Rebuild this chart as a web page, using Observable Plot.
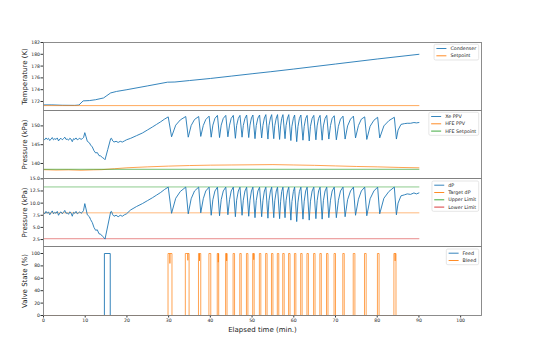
<!DOCTYPE html>
<html><head><meta charset="utf-8">
<script src="https://cdn.jsdelivr.net/npm/d3@7"></script>
<script src="https://cdn.jsdelivr.net/npm/@observablehq/plot@0.6"></script>
<style>
html,body{margin:0;padding:0;background:#fff;}
#fig{position:relative;width:538px;height:354px;overflow:hidden;background:#fff;font-family:"DejaVu Sans";}
.panel{position:absolute;left:0;}
.panel svg{overflow:visible;}
#leg{position:absolute;left:0;top:0;}
</style></head><body><div id="fig"></div><script>
// ---------- data ----------
const timeTicks = [0,10,20,30,40,50,60,70,80,90,100];
const tempTicks = [172,174,176,178,180,182];
const pressTicks = [140,145,150];
const dpTicks = [2.5,5,7.5,10,12.5,15];
const valveTicks = [0,20,40,60,80,100];

// Panel 1: temperature (K)
const condT = [0,2,4.5,7.5,8.5,9.5,11,12.5,14.4,15.2,16.1,17.5,20,25,29.7,31.5,35,40,45,50,54.5,60,70,80,90];
const condK = [171.42,171.42,171.36,171.34,171.4,172.1,172.15,172.3,172.6,173.0,173.45,173.7,174.0,174.65,175.27,175.3,175.55,175.9,176.3,176.7,177.05,177.5,178.35,179.2,180.0];
const setT = [0,90];
const setK = [171.3,171.3];

// Panels 2 & 3: Xe PPV and dP (kPa), shared time base
const ppvT = [
0,0.3,0.6,0.9,1.2,1.5,1.8,2.1,2.4,2.7,3,3.3,3.6,3.9,4.2,4.5,4.8,5.1,5.4,5.7,6,6.3,6.6,6.9,7.2,7.5,7.8,8.1,8.4,8.7,9,9.3,
9.6,9.9,10.2,10.5,11.0,11.3,11.7,12.1,12.5,12.9,13.3,13.7,14.1,14.5,14.75,15.4,16.1,16.3,16.6,16.9,17.4,17.9,18.4,18.9,19.4,19.9,20.9,22.3,23.7,24.9,26.1,27.1,28.1,29.0,29.9,
30.7,31.7,32.8,34.1,
34.7,35.4,36.2,37.2,
37.7,38.3,38.9,39.7,
40.2,40.6,41.1,41.7,
42.2,42.6,43.1,43.7,
44.2,44.6,45.0,45.5,
46.0,46.3,46.7,47.1,
47.6,47.9,48.3,48.7,
49.2,49.5,49.85,50.2,
50.7,51.0,51.4,51.8,
52.3,52.6,52.95,53.3,
53.8,54.05,54.4,54.7,
55.2,55.45,55.8,56.1,
56.6,56.85,57.1,57.4,
57.9,58.15,58.5,58.8,
59.3,59.55,59.9,60.2,
60.7,61.0,61.35,61.7,
62.2,62.5,62.85,63.2,
63.7,64.0,64.4,64.8,
65.3,65.6,65.95,66.3,
66.8,67.1,67.5,67.9,
68.4,68.8,69.2,69.7,
70.2,70.7,71.2,71.8,
72.3,72.9,73.6,74.3,
74.8,75.5,76.2,77.0,
77.5,78.3,79.2,80.1,
80.6,81.6,82.8,84.1,
84.6,85.0,85.7,86.5,87.2,88.0,88.8,89.4,90.0];
const xePPV = [
146.6,146.3,146.8,146.4,146.7,146.1,146.5,146.9,146.3,146.6,146.4,146.8,146.0,146.5,146.7,146.3,146.6,147.0,146.4,146.5,146.2,146.7,146.5,145.8,146.6,146.4,146.8,146.3,146.5,146.7,146.4,146.6,
146.9,148.2,147.1,145.9,145.5,144.9,144.4,143.4,142.8,142.9,142.1,142.0,141.6,141.3,141.0,143.7,146.6,146.7,146.0,145.7,145.9,145.6,145.9,145.7,146.0,146.3,146.7,147.4,148.1,148.9,149.7,150.4,151.1,151.8,152.4,
147.1,150.2,151.6,152.5,
147.0,150.1,151.7,152.5,
147.2,150.1,151.7,152.6,
147.0,150.2,152.0,152.8,
146.9,150.2,152.0,152.8,
147.1,150.2,152.0,152.8,
146.7,150.1,152.0,152.8,
147.0,150.1,152.0,152.9,
146.9,150.2,152.1,152.9,
146.6,150.1,152.1,152.9,
146.8,150.1,152.1,153.0,
146.5,150.1,152.1,153.0,
146.6,150.1,152.1,153.0,
146.4,150.0,152.0,153.0,
146.6,150.1,152.1,153.0,
146.1,149.9,152.0,152.9,
145.8,149.8,152.0,152.9,
146.2,149.9,152.0,152.8,
146.0,149.9,152.0,152.8,
146.3,150.0,152.0,152.8,
146.2,150.0,152.0,152.8,
146.5,150.1,152.0,152.7,
146.3,149.9,151.8,152.6,
146.5,150.0,151.8,152.6,
146.8,150.1,151.8,152.4,
146.4,149.9,151.5,152.3,
146.8,150.0,151.4,152.3,
146.5,148.9,150.4,150.6,150.7,150.7,150.9,150.8,150.9];
const dPval = [
8.1,7.8,8.3,7.9,8.2,7.6,8.0,8.4,7.8,8.1,7.9,8.3,7.5,8.0,8.2,7.8,8.1,8.5,7.9,8.0,7.7,8.2,8.0,7.3,8.1,7.9,8.3,7.8,8.0,8.2,7.9,8.1,
8.5,9.9,8.8,7.6,7.2,6.6,6.0,5.0,4.4,4.5,3.7,3.6,3.2,2.9,2.6,5.3,8.2,8.3,7.6,7.3,7.5,7.2,7.5,7.3,7.6,7.8,8.6,9.3,9.9,10.5,11.1,11.65,12.2,12.8,13.3,
7.9,11.0,12.4,13.3,
7.8,10.9,12.5,13.3,
8.0,10.9,12.5,13.3,
7.5,10.7,12.5,13.3,
7.4,10.7,12.5,13.3,
7.6,10.7,12.5,13.3,
7.2,10.6,12.5,13.3,
7.5,10.6,12.5,13.3,
7.3,10.6,12.5,13.3,
7.0,10.5,12.5,13.3,
7.2,10.5,12.5,13.3,
6.9,10.5,12.5,13.3,
7.0,10.5,12.5,13.3,
6.8,10.4,12.4,13.3,
7.0,10.5,12.5,13.3,
6.5,10.3,12.4,13.3,
6.2,10.2,12.4,13.3,
6.7,10.4,12.5,13.3,
6.5,10.4,12.5,13.3,
6.8,10.5,12.5,13.3,
6.7,10.5,12.5,13.3,
7.0,10.6,12.5,13.3,
7.0,10.6,12.5,13.3,
7.2,10.7,12.5,13.3,
7.5,10.8,12.5,13.3,
7.4,10.9,12.5,13.3,
7.8,11.0,12.4,13.3,
7.6,10.0,11.5,11.7,11.9,11.8,12.1,11.9,12.1];

const hfeT = [0,3,6,9,12,14,17,20,25,30,35,40,45,50,55,60,65,70,75,80,85,90];
const hfePPV = [138.35,138.25,138.3,138.2,138.3,138.35,138.6,138.85,139.1,139.3,139.45,139.55,139.6,139.65,139.7,139.6,139.5,139.35,139.2,139.1,138.95,138.85];
const hfeSetT = [0,90];
const hfeSet = [138.45,138.45];

const limT = [0,90];
const targetDP = [8.0,8.0];
const upperDP = [13.33,13.33];
const lowerDP = [2.67,2.67];

// Panel 4: valve state (%)
const feedOpen = [14.6];
const feedClose = [16.0];
const bleedOpen = [29.85,34.0,37.15,39.65,41.65,43.65,45.45,47.05,48.65,50.15,51.75,53.25,54.65,56.05,57.35,58.75,60.15,61.65,63.15,64.75,66.25,67.85,69.65,71.75,74.25,76.95,80.05,84.0];
const bleedClose = [30.8,34.9,37.7,40.1,42.0,44.0,45.8,47.4,49.0,50.5,52.1,53.6,55.0,56.4,57.7,59.1,60.5,62.0,63.5,65.1,66.6,68.2,70.0,72.1,74.65,77.35,80.45,84.5];
const bleedDipT = [30.3,34.6,37.4,41.9,43.9,50.4,84.3];
const bleedDipV = [84,89,88,86,88,90,88];
const valveEnd = 90;

const seriesNames1 = ["Condenser","Setpoint"];
const seriesNames2 = ["Xe PPV","HFE PPV","HFE Setpoint"];
const seriesNames3 = ["dP","Target dP","Upper Limit","Lower Limit"];
const seriesNames4 = ["Feed","Bleed"];

// ---------- helpers ----------
const C = {blue:"#1f77b4", orange:"#ff7f0e", green:"#2ca02c", red:"#d62728"};
const rows = (T, V) => T.map((t, i) => ({t, v: V[i]}));
function pulses(open, close, dipT, dipV, end) {
  const pts = [{t: 0, v: 0}];
  open.forEach((o, i) => {
    const c = close[i];
    pts.push({t: o, v: 0}, {t: o, v: 100});
    dipT.forEach((d, j) => { if (d > o && d < c) pts.push({t: d, v: 100}, {t: d, v: dipV[j]}, {t: d, v: 100}); });
    pts.push({t: c, v: 100}, {t: c, v: 0});
  });
  pts.push({t: end, v: 0});
  return pts;
}
const fig = document.getElementById("fig");
const X = {domain: [0, 105]};
const baseStyle = {fontFamily: "DejaVu Sans", fontSize: "4.6px", color: "#222", background: "transparent", overflow: "visible"};
const yTickAxis = (ticks, fmt) => Plot.axisY({ticks, tickSize: 2.5, tickPadding: 1, label: null, tickFormat: fmt, stroke: "#333"});
const yLabelAxis = (label) => Plot.axisY({ticks: [], tickSize: 0, label, labelAnchor: "center", labelOffset: 21.5, labelArrow: "none", fontSize: 7});
const ln = (data, color, w = 0.9, op = 1) => Plot.line(data, {x: "t", y: "v", stroke: color, strokeWidth: w, strokeOpacity: op});

function addPanel(top, opts) {
  const div = document.createElement("div");
  div.className = "panel";
  div.style.top = top + "px";
  div.appendChild(Plot.plot({width: 538, marginLeft: 43, marginRight: 57, style: baseStyle, ...opts}));
  fig.appendChild(div);
}

// Panel 1
addPanel(0, {
  height: 110, marginTop: 42, marginBottom: 0,
  x: {...X, axis: null}, y: {domain: [170.47, 182]},
  marks: [
    ln(rows(condT, condK), C.blue),
    ln(rows(setT, setK), C.orange, 0.9, 0.75),
    yTickAxis(tempTicks), yLabelAxis("Temperature (K)"),
    Plot.frame({stroke: "#808080", strokeWidth: 0.9})
  ]
});
// Panel 2
addPanel(110, {
  height: 68, marginTop: 0, marginBottom: 0,
  x: {...X, axis: null}, y: {domain: [136.0, 154.1]},
  marks: [
    ln(rows(ppvT, xePPV), C.blue),
    ln(rows(hfeT, hfePPV), C.orange, 0.9, 0.8),
    ln(rows(hfeSetT, hfeSet), C.green, 0.9, 0.75),
    yTickAxis(pressTicks), yLabelAxis("Pressure (kPa)"),
    Plot.frame({stroke: "#808080", strokeWidth: 0.9})
  ]
});
// Panel 3
addPanel(178, {
  height: 68, marginTop: 0, marginBottom: 0,
  x: {...X, axis: null}, y: {domain: [1.07, 15.07]},
  marks: [
    ln(rows(limT, upperDP), C.green, 0.9, 0.6),
    ln(rows(limT, targetDP), C.orange, 0.9, 0.6),
    ln(rows(limT, lowerDP), C.red, 0.9, 0.6),
    ln(rows(ppvT, dPval), C.blue),
    yTickAxis(dpTicks, d3.format(".1f")), yLabelAxis("Pressure (kPa)"),
    Plot.frame({stroke: "#808080", strokeWidth: 0.9})
  ]
});
// Panel 4
addPanel(246, {
  height: 108, marginTop: 0, marginBottom: 39,
  x: X, y: {domain: [0, 111.3]},
  marks: [
    ln(pulses(feedOpen, feedClose, [], [], valveEnd), C.blue),
    ln(pulses(bleedOpen, bleedClose, bleedDipT, bleedDipV, valveEnd), C.orange, 0.9, 0.8),
    yTickAxis(valveTicks), yLabelAxis("Valve State (%)"),
    Plot.axisX({ticks: timeTicks, tickSize: 2.5, tickPadding: 1, label: null, stroke: "#333"}),
    Plot.axisX({ticks: [], tickSize: 0, label: "Elapsed time (min.)", labelAnchor: "center", labelOffset: 16.5, labelArrow: "none", fontSize: 7}),
    Plot.frame({stroke: "#808080", strokeWidth: 0.9})
  ]
});

// ---------- legends ----------
const leg = d3.select(fig).append("svg").attr("id", "leg").attr("width", 538).attr("height", 354)
  .style("font-family", "DejaVu Sans").style("font-size", "4.8px");
function legend(top, labels, colors) {
  const g = leg.append("g");
  const rowH = 7.3, pad = 4.2, right = 478.7;
  const box = g.append("rect");
  const texts = labels.map((l, i) => g.append("text").attr("y", top + pad + i * rowH).attr("dy", "0.35em").attr("fill", "#222").text(l));
  const tw = d3.max(texts, t => t.node().getComputedTextLength());
  const w = 16.3 + tw + 2.5, x0 = right - w;
  texts.forEach(t => t.attr("x", x0 + 16.3));
  labels.forEach((l, i) => g.append("line").attr("x1", x0 + 2.3).attr("x2", x0 + 12.3)
    .attr("y1", top + pad + i * rowH).attr("y2", top + pad + i * rowH)
    .attr("stroke", colors[i]).attr("stroke-width", 0.9));
  box.attr("x", x0).attr("y", top).attr("width", w).attr("height", pad * 2 + (labels.length - 1) * rowH)
    .attr("rx", 1.5).attr("fill", "rgba(255,255,255,0.85)").attr("stroke", "#d5d5d5").attr("stroke-width", 0.6);
}
legend(44.3, seriesNames1, [C.blue, C.orange]);
legend(112.3, seriesNames2, [C.blue, C.orange, C.green]);
legend(181, seriesNames3, [C.blue, C.orange, C.green, C.red]);
legend(249, seriesNames4, [C.blue, C.orange]);
</script></body></html>
